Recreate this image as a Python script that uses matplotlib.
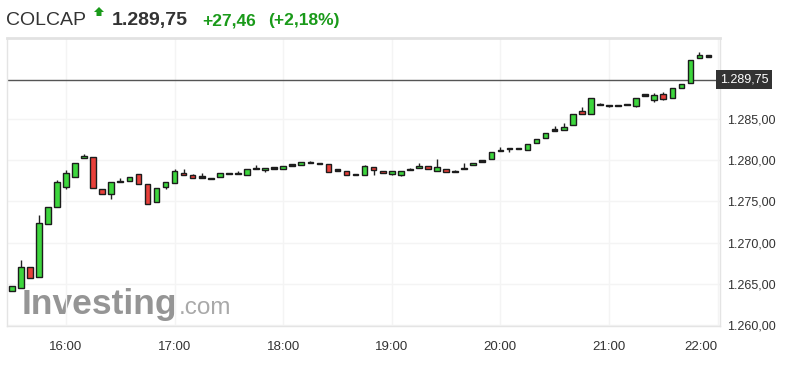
import numpy as np
import matplotlib
matplotlib.use('Agg')
import matplotlib.pyplot as plt
from matplotlib.ticker import FuncFormatter
from matplotlib.transforms import blended_transform_factory
from matplotlib.patches import Polygon

plt.rcParams['font.family'] = ['Liberation Sans', 'DejaVu Sans']

# 5 minute candles, 15:30 -> 21:55
times = [f'{m // 60:02d}:{m % 60:02d}' for m in range(15 * 60 + 30, 22 * 60, 5)]

opens = [1264.2, 1264.45, 1267.05, 1265.85, 1272.25, 1274.35, 1276.75, 1278.0, 1280.35, 1280.4,
         1276.5, 1275.85, 1277.35, 1277.45, 1278.35, 1277.15, 1274.95, 1276.75, 1277.25, 1278.5,
         1278.2, 1277.95, 1277.75, 1277.9, 1278.4, 1278.4, 1278.25, 1279.0, 1278.8, 1279.05,
         1278.95, 1279.4, 1279.4, 1279.7, 1279.6, 1279.5, 1278.8, 1278.7, 1278.25, 1278.25,
         1279.2, 1278.7, 1278.3, 1278.25, 1278.9, 1279.0, 1279.25, 1278.7, 1278.9, 1278.6,
         1279.0, 1279.35, 1279.9, 1280.1, 1281.15, 1281.4, 1281.4, 1281.2, 1282.1, 1282.7,
         1283.65, 1283.7, 1284.25, 1285.95, 1285.55, 1286.75, 1286.65, 1286.65, 1286.75, 1286.55,
         1287.9, 1287.3, 1288.0, 1287.55, 1288.7, 1289.4, 1292.35, 1292.6]
highs = [1264.8, 1267.9, 1267.05, 1273.35, 1274.35, 1277.6, 1278.8, 1279.7, 1280.75, 1280.4,
         1276.5, 1277.3, 1277.8, 1277.9, 1278.35, 1277.15, 1276.65, 1277.4, 1278.9, 1278.95,
         1278.3, 1278.4, 1277.8, 1278.45, 1278.4, 1278.7, 1278.9, 1279.4, 1279.1, 1279.05,
         1279.25, 1279.4, 1279.8, 1279.95, 1279.6, 1279.5, 1278.8, 1278.7, 1278.25, 1279.45,
         1279.2, 1278.7, 1278.65, 1278.65, 1279.0, 1279.6, 1279.25, 1280.15, 1278.9, 1278.75,
         1279.6, 1279.7, 1279.9, 1281.0, 1281.55, 1281.4, 1281.4, 1281.9, 1282.55, 1283.3,
         1284.15, 1284.55, 1285.6, 1286.4, 1287.55, 1286.9, 1286.65, 1286.65, 1286.75, 1287.55,
         1287.9, 1288.15, 1288.2, 1288.7, 1289.2, 1292.1, 1293.05, 1292.6]
lows = [1264.2, 1264.45, 1265.75, 1265.85, 1272.25, 1274.35, 1276.55, 1278.0, 1280.35, 1276.65,
        1275.9, 1275.35, 1277.35, 1277.45, 1277.1, 1274.65, 1274.95, 1276.45, 1277.25, 1278.2,
        1277.85, 1277.95, 1277.75, 1277.9, 1278.4, 1278.4, 1278.25, 1279.0, 1278.6, 1279.05,
        1278.95, 1279.4, 1279.4, 1279.7, 1279.6, 1278.6, 1278.8, 1278.15, 1278.25, 1278.25,
        1278.2, 1278.4, 1278.15, 1278.1, 1278.8, 1279.0, 1278.95, 1278.7, 1278.6, 1278.6,
        1279.0, 1279.35, 1279.9, 1280.1, 1281.15, 1280.95, 1281.4, 1281.2, 1282.1, 1282.7,
        1283.65, 1283.7, 1284.25, 1285.55, 1285.55, 1286.75, 1286.4, 1286.5, 1286.75, 1286.4,
        1287.9, 1287.0, 1287.25, 1287.55, 1288.7, 1289.4, 1292.35, 1292.6]
closes = [1264.8, 1267.05, 1265.75, 1272.4, 1274.35, 1277.3, 1278.45, 1279.7, 1280.4, 1276.65,
          1275.9, 1277.3, 1277.4, 1277.9, 1277.1, 1274.65, 1276.65, 1277.4, 1278.65, 1278.2,
          1277.85, 1277.95, 1277.8, 1278.45, 1278.4, 1278.4, 1278.9, 1279.0, 1279.1, 1279.05,
          1279.25, 1279.4, 1279.8, 1279.7, 1279.6, 1278.6, 1278.8, 1278.15, 1278.25, 1279.25,
          1278.75, 1278.4, 1278.65, 1278.65, 1278.9, 1279.3, 1278.95, 1279.2, 1278.6, 1278.6,
          1279.0, 1279.7, 1279.9, 1281.0, 1281.15, 1281.4, 1281.4, 1281.9, 1282.55, 1283.3,
          1283.65, 1284.05, 1285.6, 1285.55, 1287.55, 1286.75, 1286.65, 1286.65, 1286.75, 1287.55,
          1287.9, 1287.9, 1287.4, 1288.7, 1289.2, 1292.1, 1292.75, 1292.6]

last_price = 1289.75
change = '+27,46'
change_pct = '(+2,18%)'
hour_labels = ['16:00', '17:00', '18:00', '19:00', '20:00', '21:00', '22:00']
y_ticks = [1260, 1265, 1270, 1275, 1280, 1285]

GREEN = '#3dd63d'
RED = '#e8403a'
TXT = '#333333'


def fmt(v):
    # 1289.75 -> 1.289,75
    return f'{v:,.2f}'.replace(',', ' ').replace('.', ',').replace(' ', '.')


fig = plt.figure(figsize=(7.93, 3.66), dpi=100)
ax = fig.add_axes([7 / 793, 1 - 326 / 366, 713 / 793, 288 / 366])

o = np.array(opens)
h = np.array(highs)
l = np.array(lows)
c = np.array(closes)
x = np.arange(len(o))

body_h = np.maximum(np.abs(c - o), 0.16)
body_lo = np.where(np.abs(c - o) < 0.16, (o + c) / 2 - 0.08, np.minimum(o, c))
colors = np.where(c > o, GREEN, np.where(c < o, RED, '#222222'))

ax.vlines(x, l, h, color='#222222', lw=1, zorder=3)
ax.bar(x, body_h, bottom=body_lo, width=0.62, color=colors,
       edgecolor='#1c1c1c', linewidth=1, zorder=4)

# last price line + label
ax.axhline(last_price, color='#555555', lw=1, zorder=2)
trans = blended_transform_factory(ax.transAxes, ax.transData)
ax.plot([1.0, 1.008], [last_price, last_price], color='#555555', lw=1,
        transform=trans, clip_on=False)
ax.text(1.0, last_price, fmt(last_price),
        transform=trans, ha='left', va='center', color='white', fontsize=9, zorder=6,
        bbox=dict(boxstyle='square,pad=0.3', fc='#333333', ec='none'))

ax.set_xlim(-0.52, 78.27)
ax.set_ylim(1259.9, 1294.8)

tick_pos = [times.index(t) if t in times else len(times) for t in hour_labels]
ax.set_xticks(tick_pos)
ax.set_xticklabels(hour_labels)
ax.get_xticklabels()[-1].set_ha('right')
ax.set_yticks(y_ticks)
ax.yaxis.set_major_formatter(FuncFormatter(lambda v, p: fmt(v)))
ax.yaxis.tick_right()
ax.tick_params(axis='x', length=0, pad=11, labelsize=9.5, colors=TXT)
ax.tick_params(axis='y', length=0, pad=5, labelsize=9, colors=TXT)
ax.grid(True, color='#f4f4f4', lw=1, zorder=0)

for side in ['left', 'bottom', 'right']:
    ax.spines[side].set_color('#e4e4e4')
    ax.spines[side].set_linewidth(1)
ax.spines['top'].set_color('#e2e2e2')
ax.spines['top'].set_linewidth(2)

# watermark
ax.text(15 / 713, 1 - (314 - 38) / 288, 'Investing', transform=ax.transAxes,
        fontsize=25.5, fontweight='bold', color='#8a8a8a', ha='left', va='baseline',
        alpha=0.9, zorder=1)
ax.text(172 / 713, 1 - (314 - 38) / 288, '.com', transform=ax.transAxes,
        fontsize=17.5, color='#a0a0a0', ha='left', va='baseline', alpha=0.9, zorder=1)

# header
fig.text(6 / 793, 1 - 25 / 366, 'COLCAP', fontsize=14, color=TXT, va='baseline')
arrow = Polygon([(99 / 793, 1 - 7 / 366), (104 / 793, 1 - 12 / 366), (101.5 / 793, 1 - 12 / 366),
                 (101.5 / 793, 1 - 16 / 366), (96.5 / 793, 1 - 16 / 366), (96.5 / 793, 1 - 12 / 366),
                 (94 / 793, 1 - 12 / 366)], closed=True, transform=fig.transFigure,
                fc='#1a9a1a', ec='none')
fig.add_artist(arrow)
fig.text(112 / 793, 1 - 25 / 366, fmt(last_price),
         fontsize=14, fontweight='bold', color=TXT, va='baseline')
fig.text(202 / 793, 1 - 25 / 366, change, fontsize=12.5, fontweight='bold',
         color='#1a9a1a', va='baseline')
fig.text(268 / 793, 1 - 25 / 366, change_pct, fontsize=12.5, fontweight='bold',
         color='#1a9a1a', va='baseline')

fig.savefig('out.png', dpi=100, facecolor='white')
